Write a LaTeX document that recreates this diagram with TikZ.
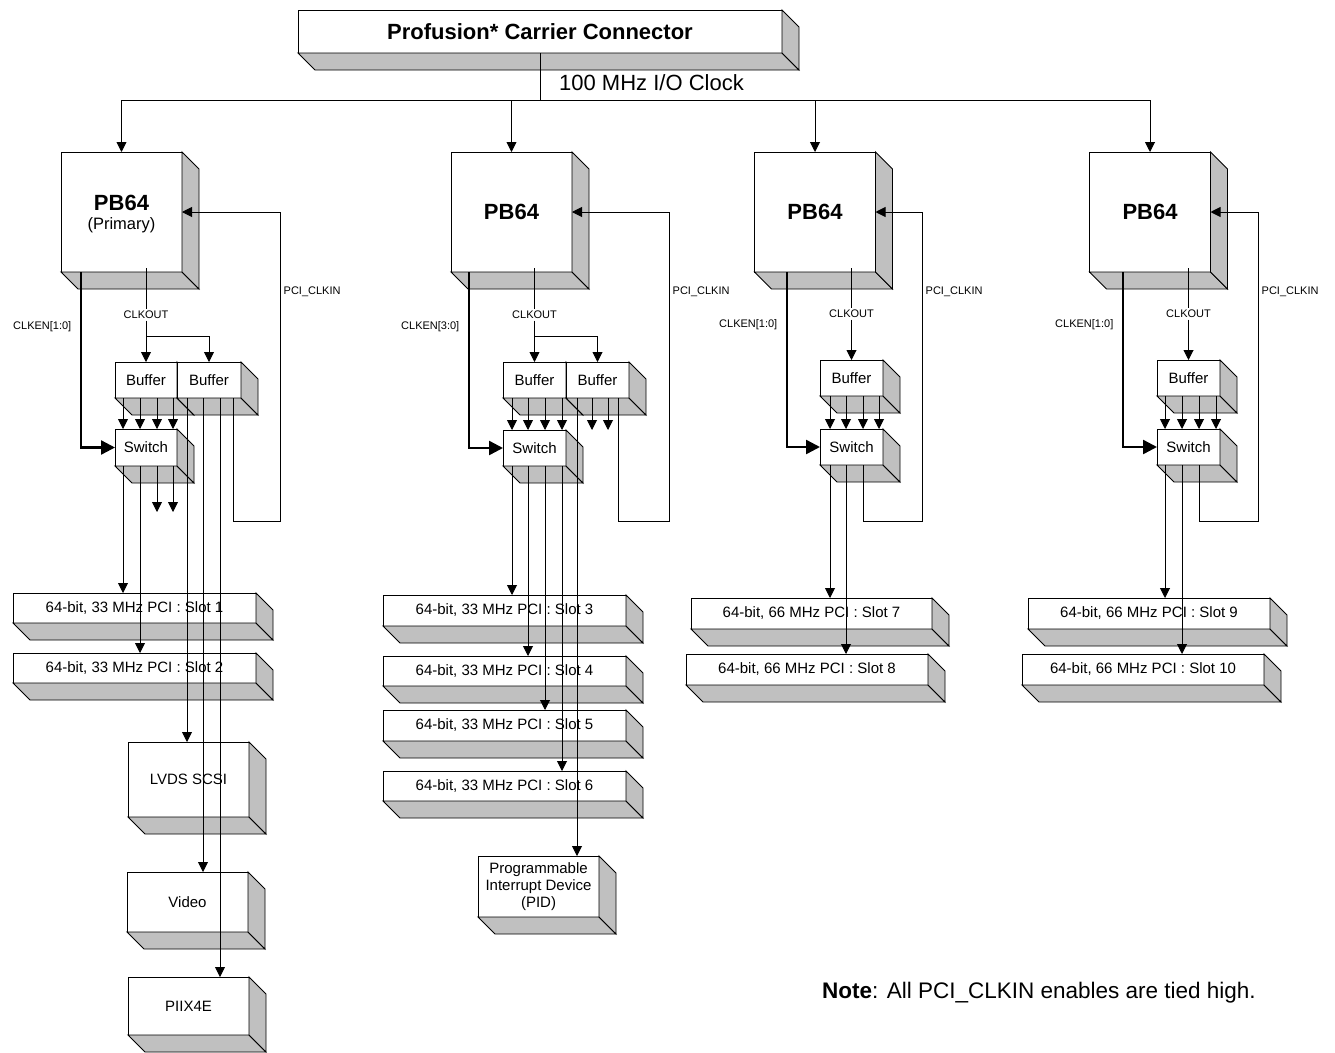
\documentclass[tikz,border=0pt]{standalone}
\usepackage{fontspec}
\setmainfont{Liberation Sans}
\usetikzlibrary{arrows.meta}
\definecolor{shadegray}{HTML}{C0C0C0}
\newcommand\fs[2]{\fontsize{#1}{#2}\selectfont}
\def\dep{17}
\tikzset{
  front/.style={draw=black, fill=white, line width=0.9pt, inner sep=0pt, outer sep=0pt,
    anchor=north west, align=center, font=\fs{15}{17}},
  face/.style={draw=black, fill=shadegray, line width=0.9pt, line join=miter},
  wire/.style={draw=black, line width=0.9pt},
  arr/.style={wire, -{Triangle[length=10pt, width=10pt]}},
  thickarr/.style={draw=black, line width=2.4pt, -{Triangle[length=14pt, width=14pt]}},
  small/.style={font=\fs{11}{13}, inner sep=1.5pt},
}
% 3D box: [options]{name}{x}{y}{w}{h}{text}
\newcommand\tdbox[7][]{%
  \node[front, minimum width=#5pt, minimum height=#6pt, #1] (#2) at (#3,#4) {#7};
  \draw[face] (#2.south west) -- ++(\dep,\dep) -- ++(#5,0) -- (#2.south east) -- cycle;
  \draw[face] (#2.north east) -- ++(\dep,\dep) -- ++(0,#6) -- (#2.south east) -- cycle;
}
\begin{document}
\begin{tikzpicture}[x=1pt, y=-1pt]
\useasboundingbox (0,0) rectangle (1335,1052);

% ---------- boxes ----------
\tdbox[font=\bfseries\fs{22}{26}]{CC}{298}{10}{484}{43}{Profusion* Carrier Connector}

\tdbox{PB1}{61}{152}{121}{120}{}
\node[font=\bfseries\fs{22}{26}, inner sep=0pt] (PB1a) at (121.5,203) {PB64};
\node[font=\fs{16.5}{20}, inner sep=0pt] (PB1b) at (121.5,225) {(Primary)};
\tdbox[font=\bfseries\fs{22}{26}]{PB2}{451}{152}{121}{120}{PB64}
\tdbox[font=\bfseries\fs{22}{26}]{PB3}{754.5}{152}{121}{120}{PB64}
\tdbox[font=\bfseries\fs{22}{26}]{PB4}{1089.5}{152}{121}{120}{PB64}

\tdbox{B11}{115}{362}{62}{36}{Buffer}
\tdbox{B12}{177}{362}{64}{36}{Buffer}
\tdbox{S1}{115}{429}{62}{37}{Switch}

\tdbox{B21}{503}{362}{63}{36}{Buffer}
\tdbox{B22}{566}{362}{63}{36}{Buffer}
\tdbox{S2}{503}{430}{63}{36}{Switch}

\tdbox{B3}{820}{360}{63}{36}{Buffer}
\tdbox{S3}{820}{429}{63}{36}{Switch}

\tdbox{B4}{1157}{360}{63}{36}{Buffer}
\tdbox{S4}{1157}{429}{63}{36}{Switch}

\tdbox{SL1}{13}{593}{243}{30}{64-bit, 33 MHz PCI : Slot 1}
\tdbox{SL2}{13}{653}{243}{30}{64-bit, 33 MHz PCI : Slot 2}
\tdbox{SL3}{383}{595}{243}{31}{64-bit, 33 MHz PCI : Slot 3}
\tdbox{SL4}{383}{656}{243}{30}{64-bit, 33 MHz PCI : Slot 4}
\tdbox{SL5}{383}{710}{243}{31}{64-bit, 33 MHz PCI : Slot 5}
\tdbox{SL6}{383}{771}{243}{30}{64-bit, 33 MHz PCI : Slot 6}
\tdbox{SL7}{691}{598}{241}{31}{64-bit, 66 MHz PCI : Slot 7}
\tdbox{SL8}{686}{654}{242}{31}{64-bit, 66 MHz PCI : Slot 8}
\tdbox{SL9}{1028}{598}{242}{31}{64-bit, 66 MHz PCI : Slot 9}
\tdbox{SL10}{1022}{654}{242}{31}{64-bit, 66 MHz PCI : Slot 10}

\tdbox{LVDS}{128}{742}{121}{75}{LVDS SCSI}
\tdbox{VID}{127}{872}{121}{60}{Video}
\tdbox{PIIX}{128}{977}{121}{58}{PIIX4E}
\tdbox{PID}{478}{856}{121}{61}{Programmable\\Interrupt Device\\(PID)}

% ---------- texts ----------
\node[font=\fs{22}{26}, anchor=west, inner sep=0pt] (clk) at (559,83) {100 MHz I/O Clock};
\node[font=\fs{22.5}{26}, anchor=west, inner sep=0pt] (note) at (822,993)
  {\textbf{Note}: All PCI\_CLKIN enables are tied high.};

\node[small] (CO1) at (146,315) {CLKOUT};
\node[small] (CO2) at (534.5,315) {CLKOUT};
\node[small] (CO3) at (851.5,314) {CLKOUT};
\node[small] (CO4) at (1188.5,314) {CLKOUT};

\node[small, anchor=east] (CE1) at (73,327) {CLKEN[1:0]};
\node[small, anchor=east] (CE2) at (461,327) {CLKEN[3:0]};
\node[small, anchor=east] (CE3) at (779,325) {CLKEN[1:0]};
\node[small, anchor=east] (CE4) at (1115,325) {CLKEN[1:0]};

\node[small, anchor=west] (PC1) at (282,292) {PCI\_CLKIN};
\node[small, anchor=west] (PC2) at (671,292) {PCI\_CLKIN};
\node[small, anchor=west] (PC3) at (924,292) {PCI\_CLKIN};
\node[small, anchor=west] (PC4) at (1260,292) {PCI\_CLKIN};

% ---------- clock distribution ----------
\coordinate (H) at (540,100);
\draw[wire] (CC.south) -- (H);
\foreach \p in {PB1,PB2,PB3,PB4} \draw[arr] (H) -| (\p.north);

% ---------- column 1 ----------
\coordinate (J1) at (146,336);
\draw[wire] ([yshift=4pt]PB1.south -| CO1) -- (CO1.north);
\draw[wire] (CO1.south) -- (J1);
\draw[arr] (J1) -- (B11.north);
\draw[arr] (J1) -| (B12.north);
\draw[thickarr] ([xshift=20pt]PB1.south west) |- (S1.west);
\foreach \d in {8,25,42,58}
  \draw[arr] ([xshift=\d pt]B11.south west) -- ([xshift=\d pt]S1.north west);
\draw[arr] ([xshift=8pt]S1.south west) coordinate (t) -- (t |- SL1.north);
\draw[arr] ([xshift=25pt]S1.south west) coordinate (t) -- (t |- SL2.north);
\draw[arr] ([xshift=42pt]S1.south west) -- ++(0,46);
\draw[arr] ([xshift=58pt]S1.south west) -- ++(0,46);
\draw[arr] ([xshift=10pt]B12.south west) coordinate (t) -- (t |- LVDS.north);
\draw[arr] ([xshift=26pt]B12.south west) coordinate (t) -- (t |- VID.north);
\draw[arr] ([xshift=43pt]B12.south west) coordinate (t) -- (t |- PIIX.north);
\coordinate (F1) at (280,521);
\draw[arr] ([xshift=56pt]B12.south west) coordinate (t) -- (t |- F1) -- (F1) |- (PB1.east);

% ---------- column 2 ----------
\coordinate (J2) at (534.5,336);
\draw[wire] ([yshift=4pt]PB2.south -| CO2) -- (CO2.north);
\draw[wire] (CO2.south) -- (J2);
\draw[arr] (J2) -- (B21.north);
\draw[arr] (J2) -| (B22.north);
\draw[thickarr] ([xshift=18pt]PB2.south west) |- (S2.west);
\foreach \d in {9,25,42,59}
  \draw[arr] ([xshift=\d pt]B21.south west) -- ([xshift=\d pt]S2.north west);
\draw[arr] ([xshift=9pt]S2.south west) coordinate (t) -- (t |- SL3.north);
\draw[arr] ([xshift=25pt]S2.south west) coordinate (t) -- (t |- SL4.north);
\draw[arr] ([xshift=42pt]S2.south west) coordinate (t) -- (t |- SL5.north);
\draw[arr] ([xshift=59pt]S2.south west) coordinate (t) -- (t |- SL6.north);
\draw[arr] ([xshift=11pt]B22.south west) coordinate (t) -- (t |- PID.north);
\draw[arr] ([xshift=26pt]B22.south west) coordinate (t) -- (t |- S2.north);
\draw[arr] ([xshift=42pt]B22.south west) coordinate (t) -- (t |- S2.north);
\coordinate (F2) at (669,521);
\draw[arr] ([xshift=52pt]B22.south west) coordinate (t) -- (t |- F2) -- (F2) |- (PB2.east);

% ---------- column 3 ----------
\draw[wire] ([yshift=4pt]PB3.south -| CO3) -- (CO3.north);
\draw[arr] (CO3.south) -- (B3.north);
\draw[thickarr] ([xshift=32.5pt]PB3.south west) |- (S3.west);
\foreach \d in {10,26,43,59}
  \draw[arr] ([xshift=\d pt]B3.south west) -- ([xshift=\d pt]S3.north west);
\draw[arr] ([xshift=10pt]S3.south west) coordinate (t) -- (t |- SL7.north);
\draw[arr] ([xshift=26pt]S3.south west) coordinate (t) -- (t |- SL8.north);
\coordinate (F3) at (922,521);
\draw[arr] ([xshift=43pt]S3.south west) coordinate (t) -- (t |- F3) -- (F3) |- (PB3.east);

% ---------- column 4 ----------
\draw[wire] ([yshift=4pt]PB4.south -| CO4) -- (CO4.north);
\draw[arr] (CO4.south) -- (B4.north);
\draw[thickarr] ([xshift=33.5pt]PB4.south west) |- (S4.west);
\foreach \d in {8,25,42,59}
  \draw[arr] ([xshift=\d pt]B4.south west) -- ([xshift=\d pt]S4.north west);
\draw[arr] ([xshift=8pt]S4.south west) coordinate (t) -- (t |- SL9.north);
\draw[arr] ([xshift=25pt]S4.south west) coordinate (t) -- (t |- SL10.north);
\coordinate (F4) at (1258,521);
\draw[arr] ([xshift=42pt]S4.south west) coordinate (t) -- (t |- F4) -- (F4) |- (PB4.east);

\end{tikzpicture}
\end{document}
